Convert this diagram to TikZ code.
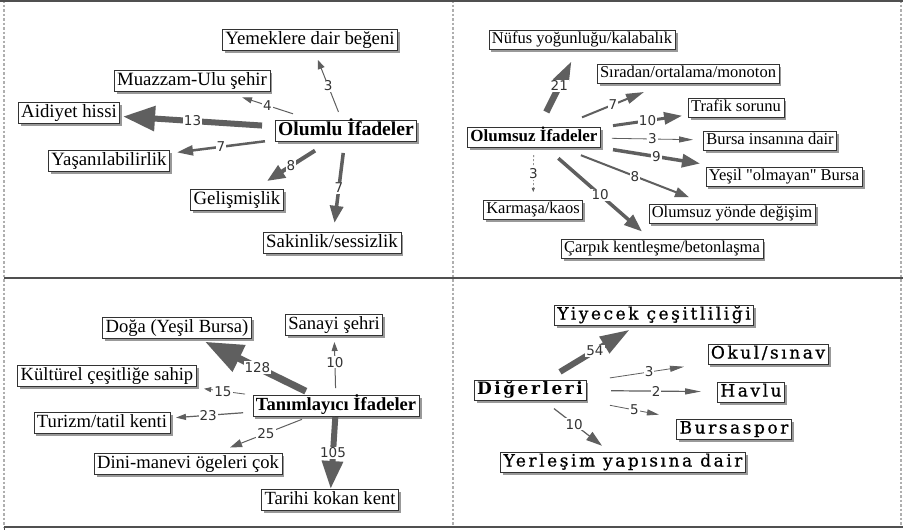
\documentclass[tikz,border=0pt]{standalone}
\usepackage{fontspec}
\setmainfont{Liberation Serif}[Ligatures=TeXOff]
\newfontfamily\numfont{DejaVu Sans}
\newfontfamily\qfour[LetterSpace=15,Ligatures=TeXOff,UprightFeatures={FakeBold=0.8}]{DejaVu Serif}
\usetikzlibrary{arrows.meta,calc,shadows}
\definecolor{arrgray}{RGB}{95,95,95}
\definecolor{framegray}{RGB}{80,80,80}
\definecolor{dashgray}{RGB}{175,175,175}
\tikzset{
  box/.style={draw=black!80, line width=0.6pt, fill=white, inner xsep=3pt, inner ysep=2pt,
    drop shadow={shadow xshift=2.5pt, shadow yshift=-2.5pt, fill=black!40, opacity=1}},
  qa/.style={box, font=\rmfamily\fontsize{18.8}{20}\selectfont, text height=12.5pt, text depth=4pt},
  qab/.style={box, font=\rmfamily\bfseries\fontsize{19.6}{21}\selectfont, text height=13pt, text depth=4pt},
  qb/.style={box, font=\rmfamily\fontsize{16.5}{18}\selectfont, text height=11.5pt, text depth=4pt},
  qbb/.style={box, font=\rmfamily\bfseries\fontsize{17}{19}\selectfont, text height=12pt, text depth=4pt},
  qc/.style={box, font=\rmfamily\fontsize{18.6}{20}\selectfont, text height=12.5pt, text depth=4pt},
  qcb/.style={box, font=\rmfamily\bfseries\fontsize{18.5}{20}\selectfont, text height=12.5pt, text depth=4pt},
  qd/.style={box, font=\qfour\fontsize{17}{19}\selectfont, text height=12.5pt, text depth=3.5pt},
  qdb/.style={box, font=\qfour\bfseries\fontsize{17}{20}\selectfont, text height=12.5pt, text depth=3.5pt},
  arr/.style n args={3}{draw=arrgray, line width=#1, -{Triangle[length=#2, width=#3]}, arrgray},
  lab/.style={fill=white, inner sep=1pt, text=black!80, font=\numfont\fontsize{13.5}{14}\selectfont},
  framesolid/.style={draw=framegray, line width=1.6pt},
  framedash/.style={draw=dashgray, line width=1.5pt, dash pattern=on 2.5pt off 2pt},
}
\begin{document}
\begin{tikzpicture}[x=1pt,y=-1pt]
\useasboundingbox (0,0) rectangle (903,530);
\fill[white] (0,0) rectangle (903,530);
% frame
\draw[framedash] (4,0) -- (4,527);
\draw[framedash] (453,0) -- (453,527);
\draw[framedash] (901,0) -- (901,527);
\draw[draw=framegray, line width=2pt] (0,1) -- (903,1);
\draw[framesolid] (4,278) -- (903,278);
\draw[framesolid] (4,527) -- (903,527);
\draw[draw=framegray, line width=1pt] (4,527) -- (4,530);

% ---------- Q1 ----------
\node[qa]  (yem) at (310,40)  {Yemeklere dair beğeni};
\node[qa]  (muz) at (192,81)  {Muazzam-Ulu şehir};
\node[qa]  (aid) at (69,113)  {Aidiyet hissi};
\node[qab] (olu) at (346,131) {Olumlu İfadeler};
\node[qa]  (yas) at (109,161) {Yaşanılabilirlik};
\node[qa]  (gel) at (237,200) {Gelişmişlik};
\node[qa]  (sak) at (332,243) {Sakinlik/sessizlik};

\draw[arr={1pt}{9pt}{7pt}]    ($(olu)!0.209!(yem)$) -- node[lab]{3}  ($(olu)!0.78!(yem)$);
\draw[arr={1pt}{10pt}{6pt}]   ($(olu)!0.344!(muz)$) -- node[lab]{4}  ($(olu)!0.675!(muz)$);
\draw[arr={6pt}{32pt}{24pt}]  ($(olu)!0.303!(aid)$) -- node[lab]{13} ($(olu)!0.805!(aid)$);
\draw[arr={2.5pt}{16pt}{10pt}]($(olu)!0.342!(yas)$) -- node[lab]{7}  ($(olu)!0.713!(yas)$);
\draw[arr={4pt}{18pt}{14pt}]  ($(olu)!0.284!(gel)$) -- node[lab]{8}  ($(olu)!0.725!(gel)$);
\draw[arr={3.5pt}{17pt}{13pt}]($(olu)!0.196!(sak)$) -- node[lab]{7}  ($(olu)!0.82!(sak)$);

% ---------- Q2 ----------
\node[qb]  (nuf) at (582,40)  {Nüfus yoğunluğu/kalabalık};
\node[qb]  (sir) at (688,74)  {Sıradan/ortalama/monoton};
\node[qb]  (tra) at (736,108) {Trafik sorunu};
\node[qbb] (ols) at (534,137) {Olumsuz İfadeler};
\node[qb]  (bin) at (770,141) {Bursa insanına dair};
\node[qb]  (yes) at (784,177) {Yeşil "olmayan" Bursa};
\node[qb]  (kar) at (533,210) {Karmaşa/kaos};
\node[qb]  (oyd) at (732,214) {Olumsuz yönde değişim};
\node[qb]  (car) at (662,249) {Çarpık kentleşme/betonlaşma};

\draw[arr={6.5pt}{26pt}{15pt}] ($(ols)!0.258!(nuf)$) -- node[lab]{21} ($(ols)!0.794!(nuf)$);
\draw[arr={2pt}{18pt}{10pt}]   ($(ols)!0.312!(sir)$) -- node[lab]{7}  ($(ols)!0.714!(sir)$);
\draw[arr={3pt}{18pt}{12pt}]   ($(ols)!0.391!(tra)$) -- node[lab]{10} ($(ols)!0.733!(tra)$);
\draw[arr={0.8pt}{14pt}{6pt}]  ($(ols)!0.33!(bin)$)  -- node[lab]{3}  ($(ols)!0.674!(bin)$);
\draw[arr={3.5pt}{18pt}{13pt}] ($(ols)!0.316!(yes)$) -- node[lab]{9}  ($(ols)!0.664!(yes)$);
\draw[arr={2pt}{14pt}{10pt}]   ($(ols)!0.237!(oyd)$) -- node[lab]{8}  ($(ols)!0.783!(oyd)$);
\draw[arr={3.5pt}{18pt}{13pt}] ($(ols)!0.19!(car)$)  -- node[lab]{10} ($(ols)!0.844!(car)$);
\draw[arr={0.6pt}{4pt}{3pt}, dash pattern=on 2pt off 2pt] ($(ols)!0.247!(kar)$) -- node[lab]{3} ($(ols)!0.753!(kar)$);

% ---------- Q3 ----------
\node[qc]  (dog) at (177,328) {Doğa (Yeşil Bursa)};
\node[qc]  (san) at (334,325) {Sanayi şehri};
\node[qc]  (kul) at (107,376) {Kültürel çeşitliğe sahip};
\node[qcb] (tan) at (336,406) {Tanımlayıcı İfadeler};
\node[qc]  (tur) at (102,423) {Turizm/tatil kenti};
\node[qc]  (din) at (188,464) {Dini-manevi ögeleri çok};
\node[qc]  (tar) at (330,500) {Tarihi kokan kent};

\draw[arr={7pt}{38pt}{28pt}]   ($(tan)!0.19!(dog)$)  -- node[lab,pos=0.48]{128} ($(tan)!0.824!(dog)$);
\draw[arr={1pt}{9pt}{6pt}]     ($(tan)!0.222!(san)$) -- node[lab,pos=0.56]{10}  ($(tan)!0.79!(san)$);
\draw[arr={0.8pt}{7pt}{5pt}]   ($(tan)!0.397!(kul)$) -- node[lab,pos=0.54]{15}  ($(tan)!0.576!(kul)$);
\draw[arr={1.2pt}{10pt}{6pt}]  ($(tan)!0.397!(tur)$) -- node[lab,pos=0.52]{23}  ($(tan)!0.684!(tur)$);
\draw[arr={1pt}{12pt}{8pt}]    ($(tan)!0.23!(din)$)  -- node[lab]{25}  ($(tan)!0.716!(din)$);
\draw[arr={6pt}{28pt}{20pt}]   ($(tan)!0.117!(tar)$) -- node[lab]{105} ($(tan)!0.883!(tar)$);

% ---------- Q4 ----------
\node[qd]  (yiy) at (654,315) {Yiyecek çeşitliliği};
\node[qd]  (oku) at (768,354) {Okul/sınav};
\node[qdb] (dig) at (530,390) {Diğerleri};
\node[qd]  (hav) at (751,392) {Havlu};
\node[qd]  (bsp) at (734,429) {Bursaspor};
\node[qd]  (yer) at (623,462) {Yerleşim yapısına dair};

\draw[arr={6pt}{30pt}{18pt}]  ($(dig)!0.242!(yiy)$) -- node[lab]{54} ($(dig)!0.806!(yiy)$);
\draw[arr={0.8pt}{14pt}{6pt}] ($(dig)!0.336!(oku)$) -- node[lab,pos=0.53]{3} ($(dig)!0.647!(oku)$);
\draw[arr={1.2pt}{16pt}{6pt}] ($(dig)!0.367!(hav)$) -- node[lab]{2} ($(dig)!0.774!(hav)$);
\draw[arr={0.8pt}{12pt}{6pt}] ($(dig)!0.392!(bsp)$) -- node[lab]{5} ($(dig)!0.632!(bsp)$);
\draw[arr={1.2pt}{16pt}{10pt}]($(dig)!0.258!(yer)$) -- node[lab,pos=0.42]{10} ($(dig)!0.774!(yer)$);
\end{tikzpicture}
\end{document}
